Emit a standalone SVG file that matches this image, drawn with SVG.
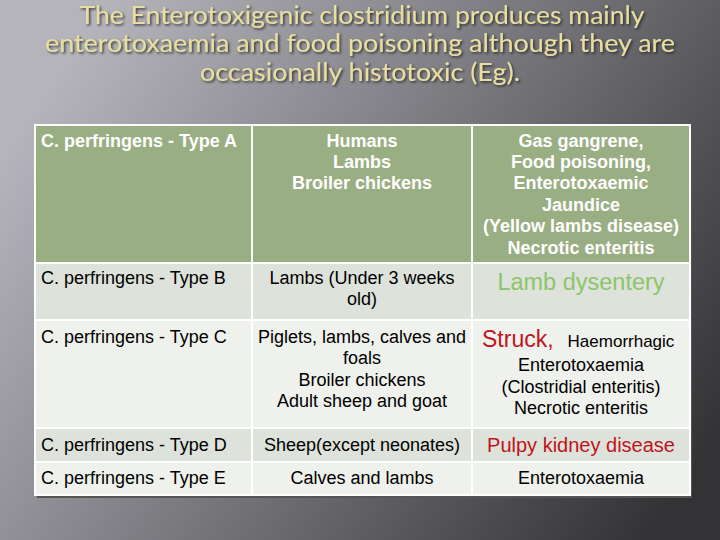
<svg xmlns="http://www.w3.org/2000/svg" width="720" height="540" viewBox="0 0 720 540">
<defs>
<linearGradient id="bg" x1="0" y1="0.3" x2="1" y2="0.8">
<stop offset="0" stop-color="#b4b4ba"/>
<stop offset="0.35" stop-color="#88888e"/>
<stop offset="1" stop-color="#333336"/>
</linearGradient>
<filter id="sh" x="-5%" y="-5%" width="110%" height="110%"><feDropShadow dx="1.5" dy="1.5" stdDeviation="0.8" flood-color="#222" flood-opacity="0.8"/></filter>
</defs>
<style>
.t{font-family:Lato,"Open Sans",sans-serif;font-size:25px;fill:#e9dea2;text-anchor:middle}
.c{font-family:"Liberation Sans",Arial,sans-serif;font-size:18px;fill:#000}
.m{text-anchor:middle}
.h{fill:#fff;font-weight:bold}
.r{fill:#c0141c}
</style>
<rect width="720" height="540" fill="url(#bg)"/>
<g id="title" filter="url(#sh)">
<text class="t" x="362" y="24" textLength="565" lengthAdjust="spacingAndGlyphs">The Enterotoxigenic clostridium produces mainly</text>
<text class="t" x="360" y="52" textLength="630" lengthAdjust="spacingAndGlyphs">enterotoxaemia and food poisoning although they are</text>
<text class="t" x="360" y="81" textLength="320" lengthAdjust="spacingAndGlyphs">occasionally histotoxic (Eg).</text>
</g>
<rect x="37" y="127" width="655" height="371" fill="#555"/>
<g id="table" stroke="#fff" stroke-width="2">
<rect x="35" y="125" width="217" height="138" fill="#9aae83"/>
<rect x="252" y="125" width="220" height="138" fill="#9aae83"/>
<rect x="472" y="125" width="218" height="138" fill="#9aae83"/>
<rect x="35" y="263" width="217" height="57" fill="#dde2da"/>
<rect x="252" y="263" width="220" height="57" fill="#dde2da"/>
<rect x="472" y="263" width="218" height="57" fill="#dde2da"/>
<rect x="35" y="320" width="217" height="108" fill="#eff1ec"/>
<rect x="252" y="320" width="220" height="108" fill="#eff1ec"/>
<rect x="472" y="320" width="218" height="108" fill="#eff1ec"/>
<rect x="35" y="428" width="217" height="34" fill="#dde2da"/>
<rect x="252" y="428" width="220" height="34" fill="#dde2da"/>
<rect x="472" y="428" width="218" height="34" fill="#dde2da"/>
<rect x="35" y="462" width="217" height="33" fill="#eff1ec"/>
<rect x="252" y="462" width="220" height="33" fill="#eff1ec"/>
<rect x="472" y="462" width="218" height="33" fill="#eff1ec"/>
</g>
<g id="rowA">
<text class="c h" x="41" y="147">C. perfringens - Type A</text>
<text class="c h m" x="362" y="147">Humans</text>
<text class="c h m" x="362" y="168">Lambs</text>
<text class="c h m" x="362" y="189">Broiler chickens</text>
<text class="c h m" x="581" y="147">Gas gangrene,</text>
<text class="c h m" x="581" y="168">Food poisoning,</text>
<text class="c h m" x="581" y="189">Enterotoxaemic</text>
<text class="c h m" x="581" y="211">Jaundice</text>
<text class="c h m" x="581" y="232">(Yellow lambs disease)</text>
<text class="c h m" x="581" y="254">Necrotic enteritis</text>
</g>
<g id="rowB">
<text class="c" x="41" y="284">C. perfringens - Type B</text>
<text class="c m" x="362" y="284">Lambs (Under 3 weeks</text>
<text class="c m" x="362" y="305">old)</text>
<text class="c m" x="581" y="290" style="font-size:23.5px;fill:#8cc56a">Lamb dysentery</text>
</g>
<g id="rowC">
<text class="c" x="41" y="343">C. perfringens - Type C</text>
<text class="c m" x="362" y="343">Piglets, lambs, calves and</text>
<text class="c m" x="362" y="364">foals</text>
<text class="c m" x="362" y="386">Broiler chickens</text>
<text class="c m" x="362" y="407">Adult sheep and goat</text>
<text class="c" x="482" y="347"><tspan class="r" style="font-size:23px">Struck,</tspan><tspan dx="14" style="font-size:17px">Haemorrhagic</tspan></text>
<text class="c m" x="581" y="371">Enterotoxaemia</text>
<text class="c m" x="581" y="393">(Clostridial enteritis)</text>
<text class="c m" x="581" y="414">Necrotic enteritis</text>
</g>
<g id="rowD">
<text class="c" x="41" y="451">C. perfringens -  Type D</text>
<text class="c m" x="362" y="451">Sheep(except neonates)</text>
<text class="c m r" x="581" y="452" style="font-size:20px">Pulpy kidney disease</text>
</g>
<g id="rowE">
<text class="c" x="41" y="484">C. perfringens -  Type E</text>
<text class="c m" x="362" y="484">Calves and lambs</text>
<text class="c m" x="581" y="484">Enterotoxaemia</text>
</g>
</svg>
